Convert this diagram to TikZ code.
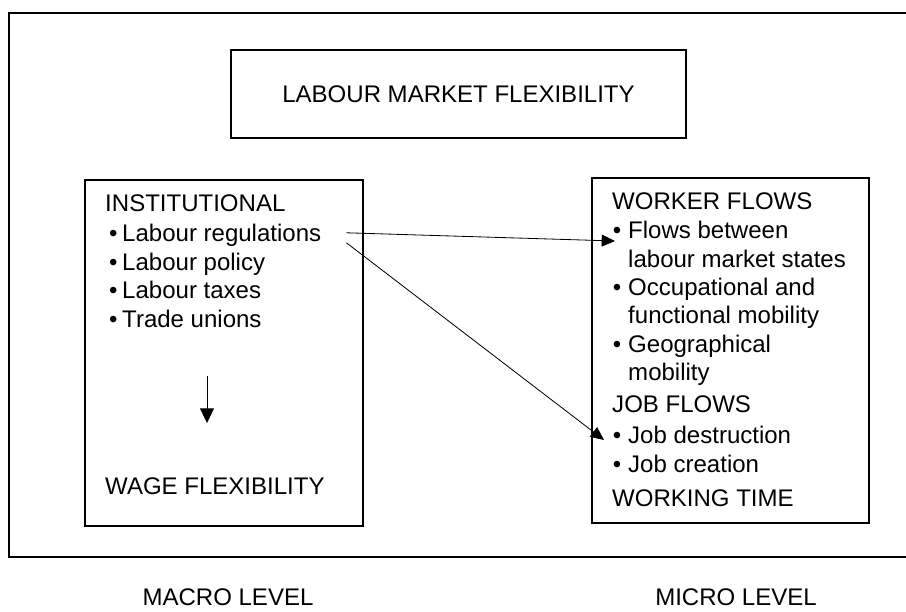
\documentclass[tikz,border=0pt]{standalone}
\usepackage{fontspec}
\setmainfont{Liberation Sans}
\usetikzlibrary{positioning,arrows.meta,calc}

\begin{document}
\begin{tikzpicture}[x=0.03cm,y=-0.03cm,
  box/.style={draw,line width=1.1pt,inner sep=0,font=\fontsize{20.5}{24}\selectfont},
  txt/.style={anchor=base west,inner sep=0,font=\fontsize{20.5}{24}\selectfont},
  lvl/.style={anchor=base,inner sep=0,font=\fontsize{20.5}{24}\selectfont},
  link/.style={line width=0.7pt,-{Triangle[length=0.4cm,width=0.36cm]}}]
\useasboundingbox (0,0) rectangle (906,611);

% Outer frame (open on the right)
\draw[line width=1.1pt] (906,13) -- (9,13) -- (9,557) -- (906,557);

% Top box
\node[box, minimum width=13.65cm, minimum height=2.64cm] (lmf) at (458.5,94) {LABOUR MARKET FLEXIBILITY};

% Macro and micro boxes
\node[box, minimum width=8.34cm, minimum height=10.38cm] (macro) at (224,353) {};
\node[box, minimum width=8.31cm, minimum height=10.35cm] (micro) at (730.5,350.5) {};

% Macro side
\node[txt] (inst) at (105,211) {INSTITUTIONAL};
\node[txt] (regs) at (122,241) {\llap{\textbullet\hspace{4pt}}Labour regulations};
\node[txt] (policy) at (122,270) {\llap{\textbullet\hspace{4pt}}Labour policy};
\node[txt] (taxes) at (122,298) {\llap{\textbullet\hspace{4pt}}Labour taxes};
\node[txt] (unions) at (122,327) {\llap{\textbullet\hspace{4pt}}Trade unions};
\node[txt] (wage) at (105,494) {WAGE FLEXIBILITY};

% Micro side
\node[txt] (wflows) at (612,209) {WORKER FLOWS};
\node[txt] (flows) at (628,238) {\llap{\textbullet\hspace{6pt}}Flows between};
\node[txt] (states) at (628,267) {labour market states};
\node[txt] (occup) at (628,295) {\llap{\textbullet\hspace{6pt}}Occupational and};
\node[txt] (funct) at (628,323) {functional mobility};
\node[txt] (geo) at (628,352) {\llap{\textbullet\hspace{6pt}}Geographical};
\node[txt] (geomob) at (628,380) {mobility};
\node[txt] (jflows) at (612,412) {JOB FLOWS};
\node[txt] (destr) at (628,443) {\llap{\textbullet\hspace{6pt}}Job destruction};
\node[txt] (creat) at (628,472) {\llap{\textbullet\hspace{6pt}}Job creation};
\node[txt] (wtime) at (612,506) {WORKING TIME};

% Level labels
\node[lvl] (macrolvl) at (228,605) {MACRO LEVEL};
\node[lvl] (microlvl) at (736,605) {MICRO LEVEL};

% Arrows
\coordinate (d1) at (207,376);
\coordinate (d2) at (207,423);
\draw[link, -{Triangle[length=0.44cm,width=0.42cm]}] (d1) -- (d2);
\draw[link] ($(regs.east)+(25,-2)$) -- ($(flows.base west)+(-13,3)$);
\draw[link] ($(regs.east)+(25,8)$) -- ($(destr.base west)+(-24,-3)$);
\end{tikzpicture}
\end{document}
